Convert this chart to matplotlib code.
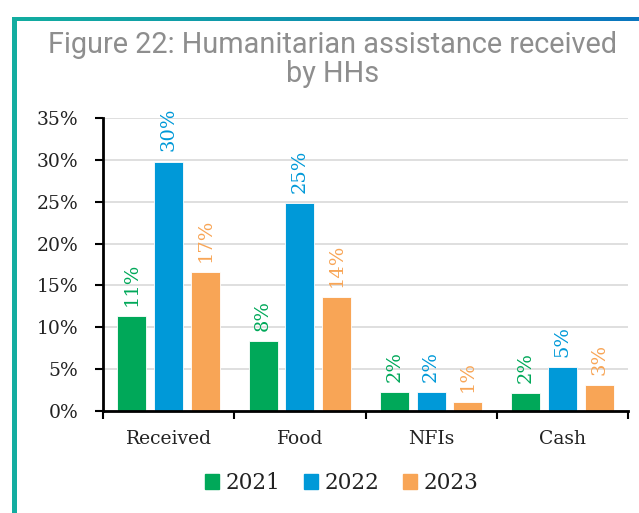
import numpy as np
import matplotlib.pyplot as plt
from matplotlib.patches import Rectangle
from matplotlib.colors import LinearSegmentedColormap

categories = ["Received", "Food", "NFIs", "Cash"]
years = ["2021", "2022", "2023"]
values_2021 = [11.3, 8.4, 2.3, 2.1]
values_2022 = [29.8, 24.9, 2.3, 5.2]
values_2023 = [16.6, 13.6, 1.1, 3.1]
labels_2021 = ["11%", "8%", "2%", "2%"]
labels_2022 = ["30%", "25%", "2%", "5%"]
labels_2023 = ["17%", "14%", "1%", "3%"]

colors = ["#00a859", "#0099d8", "#f8a556"]
serif = ["DejaVu Serif"]

fig = plt.figure(figsize=(6.39, 5.13), dpi=100)

# frame: gradient top strip + teal left strip
W, H = 639, 513
bar_ax = fig.add_axes([12 / W, 1 - 21 / H, 1 - 12 / W, 4 / H])
grad = np.linspace(0, 1, 256).reshape(1, -1)
cmap = LinearSegmentedColormap.from_list("frame", ["#13ada0", "#0a76bf"])
bar_ax.imshow(grad, aspect="auto", cmap=cmap)
bar_ax.axis("off")
fig.add_artist(Rectangle((12 / W, 0), 5 / W, 1 - 17 / H, transform=fig.transFigure,
                         color="#13ada0", lw=0))

fig.text(333 / W, 1 - 45 / H, "Figure 22: Humanitarian assistance received",
         ha="center", va="center", fontsize=20.8, color="#8e8e8e", family="Roboto")
fig.text(333 / W, 1 - 74 / H, "by HHs",
         ha="center", va="center", fontsize=20.8, color="#8e8e8e", family="Roboto")

ax = fig.add_axes([103 / W, 1 - 411 / H, 525 / W, 293 / H])
x = np.arange(len(categories))
offset = 0.28
width = 0.22
series = [values_2021, values_2022, values_2023]
labels = [labels_2021, labels_2022, labels_2023]
for i, (vals, labs) in enumerate(zip(series, labels)):
    xs = x + (i - 1) * offset
    ax.bar(xs, vals, width, color=colors[i], edgecolor="white", linewidth=0.6,
           label=years[i], zorder=3)
    for xi, v, lab in zip(xs, vals, labs):
        ax.text(xi, v + 1.2, lab, rotation=90, ha="center", va="bottom",
                color=colors[i], fontsize=14, family=serif)

ax.set_xlim(-0.5, 3.5)
ax.set_ylim(0, 35)
ax.set_yticks(range(0, 36, 5))
ax.set_yticklabels([f"{t}%" for t in range(0, 36, 5)], family=serif, fontsize=13.5,
                   color="#222222")
ax.set_xticks(x)
ax.set_xticklabels(categories, family=serif, fontsize=13.5, color="#222222")
ax.set_xticks(np.arange(-0.5, 4, 1), minor=True)
ax.tick_params(axis="x", which="major", length=0, pad=14)
ax.tick_params(axis="x", which="minor", length=6, width=1.5, direction="out")
ax.tick_params(axis="y", length=6, width=1.5, direction="out", pad=12)
ax.yaxis.grid(True, color="#d9d9d9", lw=1.2, zorder=0)
for s in ["top", "right"]:
    ax.spines[s].set_visible(False)
for s in ["left", "bottom"]:
    ax.spines[s].set_linewidth(2)
    ax.spines[s].set_zorder(4)

handles = [Rectangle((0, 0), 1, 1, color=c) for c in colors]
fig.legend(handles, years, loc="center", bbox_to_anchor=(342 / W, 1 - 483 / H),
           ncol=3, frameon=False, prop={"family": serif, "size": 15.5},
           handlelength=0.65, handleheight=0.65, handletextpad=0.3, columnspacing=1.1,
           labelcolor="#222222")

fig.savefig("out.png", dpi=100)
